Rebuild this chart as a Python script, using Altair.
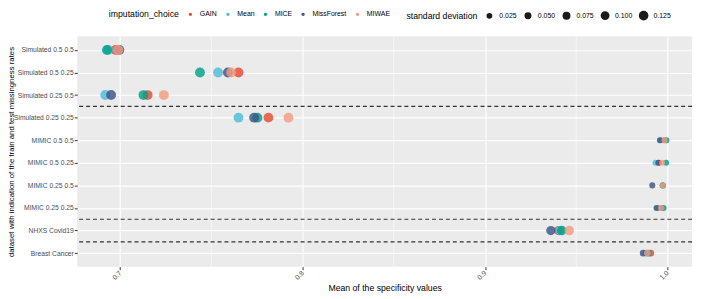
import altair as alt
import pandas as pd

# rows from top to bottom
datasets = ["Simulated 0.5 0.5", "Simulated 0.5 0.25", "Simulated 0.25 0.5", "Simulated 0.25 0.25",
            "MIMIC 0.5 0.5", "MIMIC 0.5 0.25", "MIMIC 0.25 0.5", "MIMIC 0.25 0.25",
            "NHXS Covid19", "Breast Cancer"]
methods = ["GAIN", "Mean", "MICE", "MissForest", "MIWAE"]
colors = ["#E64B35", "#4DBBD5", "#00A087", "#3C5488", "#F39B7F"]

# mean specificity per dataset, order of methods: GAIN, Mean, MICE, MissForest, MIWAE
spec_gain = [0.6975, 0.7649, 0.7151, 0.7813, 0.9982, 0.9953, 0.9973, 0.9965, 0.9403, 0.9909]
spec_mean = [0.6935, 0.7537, 0.6919, 0.7649, 0.9958, 0.9935, 0.9974, 0.9945, 0.9410, 0.9880]
spec_mice = [0.6928, 0.7438, 0.7128, 0.7753, 0.9995, 0.9993, 0.9976, 0.9979, 0.9421, 0.9895]
spec_missforest = [0.6996, 0.7591, 0.6951, 0.7735, 0.9960, 0.9950, 0.9917, 0.9940, 0.9361, 0.9867]
spec_miwae = [0.6990, 0.7609, 0.7240, 0.7923, 0.9984, 0.9971, 0.9975, 0.9965, 0.9462, 0.9890]

# standard deviation per dataset (same method order)
sd_gain = [0.132, 0.135, 0.133, 0.131, 0.028, 0.030, 0.027, 0.029, 0.115, 0.046]
sd_mean = [0.134, 0.133, 0.135, 0.132, 0.029, 0.031, 0.028, 0.030, 0.116, 0.045]
sd_mice = [0.133, 0.134, 0.132, 0.133, 0.027, 0.029, 0.030, 0.028, 0.117, 0.047]
sd_missforest = [0.131, 0.132, 0.134, 0.135, 0.030, 0.028, 0.031, 0.029, 0.116, 0.046]
sd_miwae = [0.135, 0.131, 0.133, 0.134, 0.028, 0.030, 0.029, 0.031, 0.118, 0.045]

separators = [7.5, 2.5, 1.5]
minor_breaks = [0.75, 0.85, 0.95]
major_breaks = [0.7, 0.8, 0.9, 1.0]
sd_breaks = [0.025, 0.05, 0.075, 0.1, 0.125]

n = len(datasets)
pos = {d: n - i for i, d in enumerate(datasets)}
spec = dict(zip(methods, [spec_gain, spec_mean, spec_mice, spec_missforest, spec_miwae]))
sds = dict(zip(methods, [sd_gain, sd_mean, sd_mice, sd_missforest, sd_miwae]))

rows = []
order = 0
for i, d in enumerate(datasets):
    for m in methods:
        rows.append({"dataset": d, "pos": pos[d], "method": m,
                     "spec": spec[m][i], "sd": sds[m][i], "ord": order})
        order += 1
df = pd.DataFrame(rows)

label_expr = "[" + ",".join(f"'{d}'" for d in reversed(datasets)) + "][datum.value - 1]"

FONT = "Liberation Sans"
xdom = [0.6765, 1.0135]
ydom = [0.4, 10.6]

xscale = alt.Scale(domain=xdom, nice=False, zero=False)
yscale = alt.Scale(domain=ydom, nice=False, zero=False)

xaxis = alt.Axis(values=major_breaks, format=".1f", title="Mean of the specificity values",
                 labelAngle=315, labelAlign="right", labelBaseline="middle",
                 labelFontSize=7, labelColor="#4D4D4D", labelPadding=2, labelOverlap=False,
                 tickColor="#333333", tickSize=3, domain=False,
                 grid=True, gridColor="white", gridWidth=1.1,
                 titleFontSize=8.8, titleFontWeight="normal", titleColor="black",
                 titlePadding=3)
yaxis = alt.Axis(values=list(range(1, n + 1)), labelExpr=label_expr,
                 title="dataset with indication of the train and test missingness rates",
                 labelFontSize=6.8, labelColor="#4D4D4D", labelPadding=1, labelOverlap=False,
                 tickColor="#333333", tickSize=3, domain=False,
                 grid=True, gridColor="white", gridWidth=1.1,
                 titleFontSize=7.9, titleFontWeight="normal", titleColor="black",
                 titleX=-62.5, titleY=116.5, titleAngle=270, titleBaseline="bottom",
                 titleAlign="center")

minor = alt.Chart(pd.DataFrame({"v": minor_breaks})).mark_rule(
    color="white", strokeWidth=0.55).encode(
    x=alt.X("v:Q", scale=xscale, axis=xaxis))

points = alt.Chart(df).mark_circle(opacity=0.82).encode(
    x=alt.X("spec:Q", scale=xscale, axis=xaxis),
    y=alt.Y("pos:Q", scale=yscale, axis=yaxis),
    color=alt.Color("method:N", scale=alt.Scale(domain=methods, range=colors),
                    legend=alt.Legend(title="imputation_choice", orient="none",
                                      legendX=32, legendY=-26, direction="horizontal",
                                      titleOrient="left", columns=5, symbolSize=12,
                                      symbolOpacity=1, labelFontSize=7, titleFontSize=8.8,
                                      titleFontWeight="normal", titlePadding=8,
                                      columnPadding=7, labelOffset=6)),
    size=alt.Size("sd:Q", scale=alt.Scale(type="linear", domain=[0.025, 0.125], range=[34, 95]),
                  legend=alt.Legend(title="standard deviation", orient="none",
                                    legendX=333, legendY=-26, direction="horizontal",
                                    titleOrient="left", columns=5, values=sd_breaks,
                                    symbolFillColor="#1A1A1A", symbolStrokeWidth=0,
                                    symbolOpacity=1,
                                    labelFontSize=7, titleFontSize=8.8, titleFontWeight="normal",
                                    titlePadding=7, columnPadding=6, labelOffset=5,
                                    format=".3f")),
    order=alt.Order("ord:Q"),
)

seps = alt.Chart(pd.DataFrame({"y": separators})).mark_rule(
    color="#333333", strokeDash=[4, 3], strokeWidth=1.1).encode(
    y=alt.Y("y:Q", scale=yscale, axis=yaxis))

chart = alt.layer(minor, points, seps).properties(
    width=622, height=233,
    autosize=alt.AutoSizeParams(type="none"),
    padding={"left": 70, "top": 27, "right": 6, "bottom": 31},
).configure(font=FONT).configure_view(fill="#EBEBEB", stroke=None)

chart.save("out.html", embed_options={"renderer": "svg", "actions": False})
